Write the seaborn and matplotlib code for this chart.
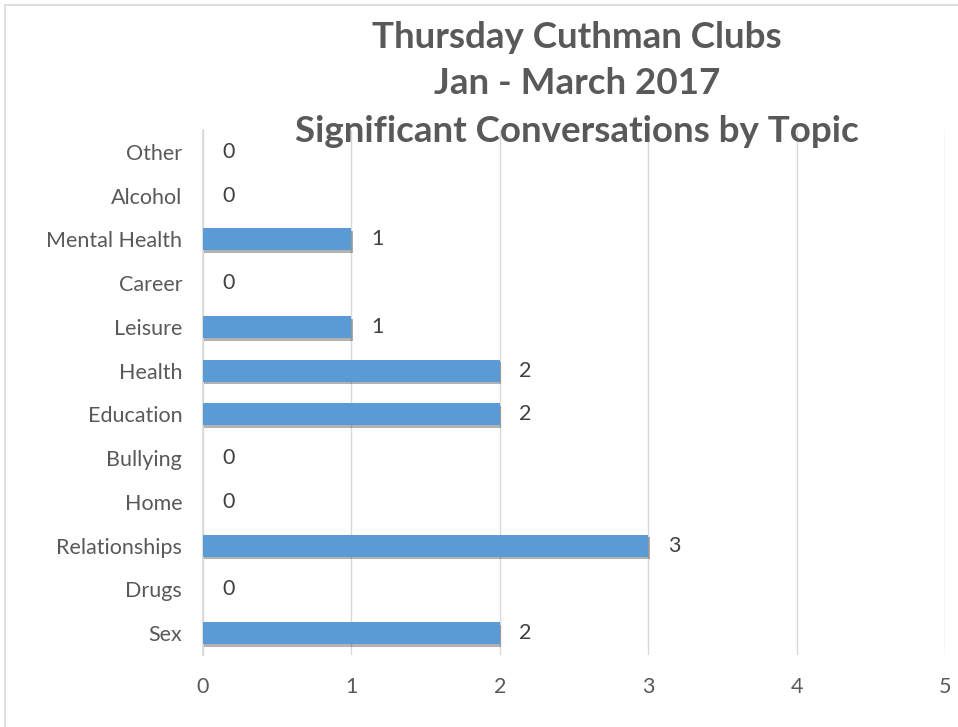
import matplotlib
matplotlib.use("Agg")
import matplotlib.pyplot as plt
import matplotlib.patheffects as pe
from matplotlib.patches import Rectangle
import seaborn as sns
import pandas as pd

topics = ["Other", "Alcohol", "Mental Health", "Career", "Leisure", "Health",
          "Education", "Bullying", "Home", "Relationships", "Drugs", "Sex"]
counts = [0, 0, 1, 0, 1, 2, 2, 0, 0, 3, 0, 2]
x_ticks = [0, 1, 2, 3, 4, 5]
title_lines = ["Thursday Cuthman Clubs", "Jan - March 2017",
               "Significant Conversations by Topic"]

sns.set_theme(style="white")
plt.rcParams['font.family'] = ['Lato', 'DejaVu Sans']

df = pd.DataFrame({"topic": topics, "count": counts})

fig = plt.figure(figsize=(9.58, 7.27), dpi=100)
ax = fig.add_axes([203/958, 1 - 655/727, (945 - 203)/958, (655 - 130)/727])

sns.barplot(data=df, y="topic", x="count", orient="h", color="#5B9BD5",
            width=0.5, saturation=1, ax=ax, zorder=3)
for p, v in zip(ax.patches, counts):
    p.set_edgecolor("none")
    if v > 0:
        p.set_path_effects([pe.SimplePatchShadow(offset=(1, -2), shadow_rgbFace="#000000", alpha=0.3),
                            pe.Normal()])

ax.set_xlim(0, 5)
ax.set_ylim(len(topics) - 0.5, -0.5)
ax.set_xticks(x_ticks)
ax.set_xticklabels([str(t) for t in x_ticks])
ax.grid(axis="x", color="#d9d9d9", linewidth=1, zorder=0)
ax.grid(axis="y", visible=False)
for s in ["top", "right", "bottom"]:
    ax.spines[s].set_visible(False)
ax.spines["left"].set_color("#d9d9d9")
ax.spines["left"].set_zorder(1)
ax.tick_params(axis="both", length=0, labelsize=15.5, labelcolor="#595959")
ax.tick_params(axis="y", pad=15)
ax.tick_params(axis="x", pad=16)
ax.set_xlabel("")
ax.set_ylabel("")

for i, v in enumerate(counts):
    ax.annotate(str(v), xy=(v, i), xytext=(14, 0), textcoords="offset points",
                va="center", ha="left", fontsize=15.5, color="#404040")

ys = [37, 83, 132]
for line, y in zip(title_lines, ys):
    fig.text(577/958, 1 - y/727, line, ha="center", va="center",
             fontsize=26.5, fontweight="bold", color="#595959")

fig.patches.append(Rectangle((5/958, -0.1), 1.2, 1 - 5/727 + 0.1, transform=fig.transFigure,
                             fill=False, edgecolor="#d9d9d9", linewidth=1.2))

fig.savefig("out.png", dpi=100)
